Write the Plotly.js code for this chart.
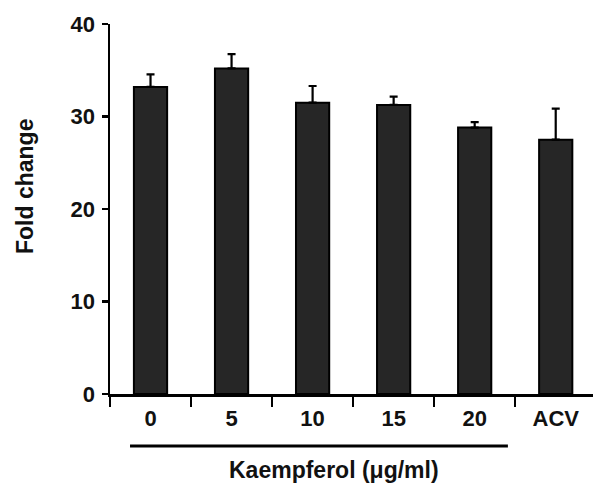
<!DOCTYPE html>
<html>
<head>
<meta charset="utf-8">
<script src="https://cdn.plot.ly/plotly-3.0.1.min.js"></script>
<style>html,body{margin:0;padding:0;background:#fff;}#chart{width:593px;height:484px;}</style>
</head>
<body>
<div id="chart"></div>
<script>
const categories = ["0", "5", "10", "15", "20", "ACV"];
const foldChange = [33.2, 35.2, 31.5, 31.25, 28.8, 27.5];
const errorUp = [1.35, 1.55, 1.8, 0.9, 0.6, 3.35];
const yTicks = [0, 10, 20, 30, 40];
const yTitle = "Fold change";
const xTitle = "Kaempferol (μg/ml)";

const FONT = "Liberation Sans, Arial, sans-serif";

const trace = {
  type: "bar",
  x: categories,
  y: foldChange,
  width: 0.41,
  marker: { color: "#262626", line: { color: "#000", width: 2 } },
  error_y: {
    type: "data", symmetric: false, array: errorUp,
    arrayminus: errorUp.map(() => 0),
    color: "#000", thickness: 2.2, width: 4
  },
  hoverinfo: "skip"
};

const layout = {
  width: 593, height: 484,
  margin: { l: 110, r: 0, t: 24, b: 90 },
  paper_bgcolor: "#fff", plot_bgcolor: "#fff",
  showlegend: false,
  font: { family: FONT, color: "#111" },
  xaxis: {
    type: "category",
    range: [-0.5, 5.46],
    showline: true, linecolor: "#000", linewidth: 2.5,
    ticks: "outside", tickson: "boundaries", ticklen: 10, tickwidth: 2.5, tickcolor: "#000",
    showgrid: false, zeroline: false,
    tickfont: { family: FONT, size: 22, color: "#111", weight: "bold" },
    ticklabelstandoff: 3
  },
  yaxis: {
    range: [0, 40],
    tickvals: yTicks,
    showline: true, linecolor: "#000", linewidth: 2.5,
    ticks: "outside", ticklen: 6, tickwidth: 2.5, tickcolor: "#000",
    showgrid: false, zeroline: false,
    tickfont: { family: FONT, size: 22, color: "#111", weight: "bold" },
    ticklabelstandoff: 2
  },
  shapes: [{
    type: "line", xref: "x", yref: "paper",
    x0: -0.253, x1: 4.41, y0: -0.1405, y1: -0.1405,
    line: { color: "#000", width: 3 }
  }],
  annotations: [
    {
      text: "<b>" + xTitle + "</b>", xref: "x", yref: "paper",
      x: 2.265, y: -0.205, showarrow: false, xanchor: "center", yanchor: "middle",
      font: { family: FONT, size: 23, color: "#111" }
    },
    {
      text: "<b>" + yTitle + "</b>", xref: "paper", yref: "paper",
      x: (25 - 110) / 483, y: (394 - 187) / 370, textangle: -90,
      showarrow: false, xanchor: "center", yanchor: "middle",
      font: { family: FONT, size: 23, color: "#111" }
    }
  ]
};

Plotly.newPlot("chart", [trace], layout, { staticPlot: true, displayModeBar: false });
</script>
</body>
</html>
